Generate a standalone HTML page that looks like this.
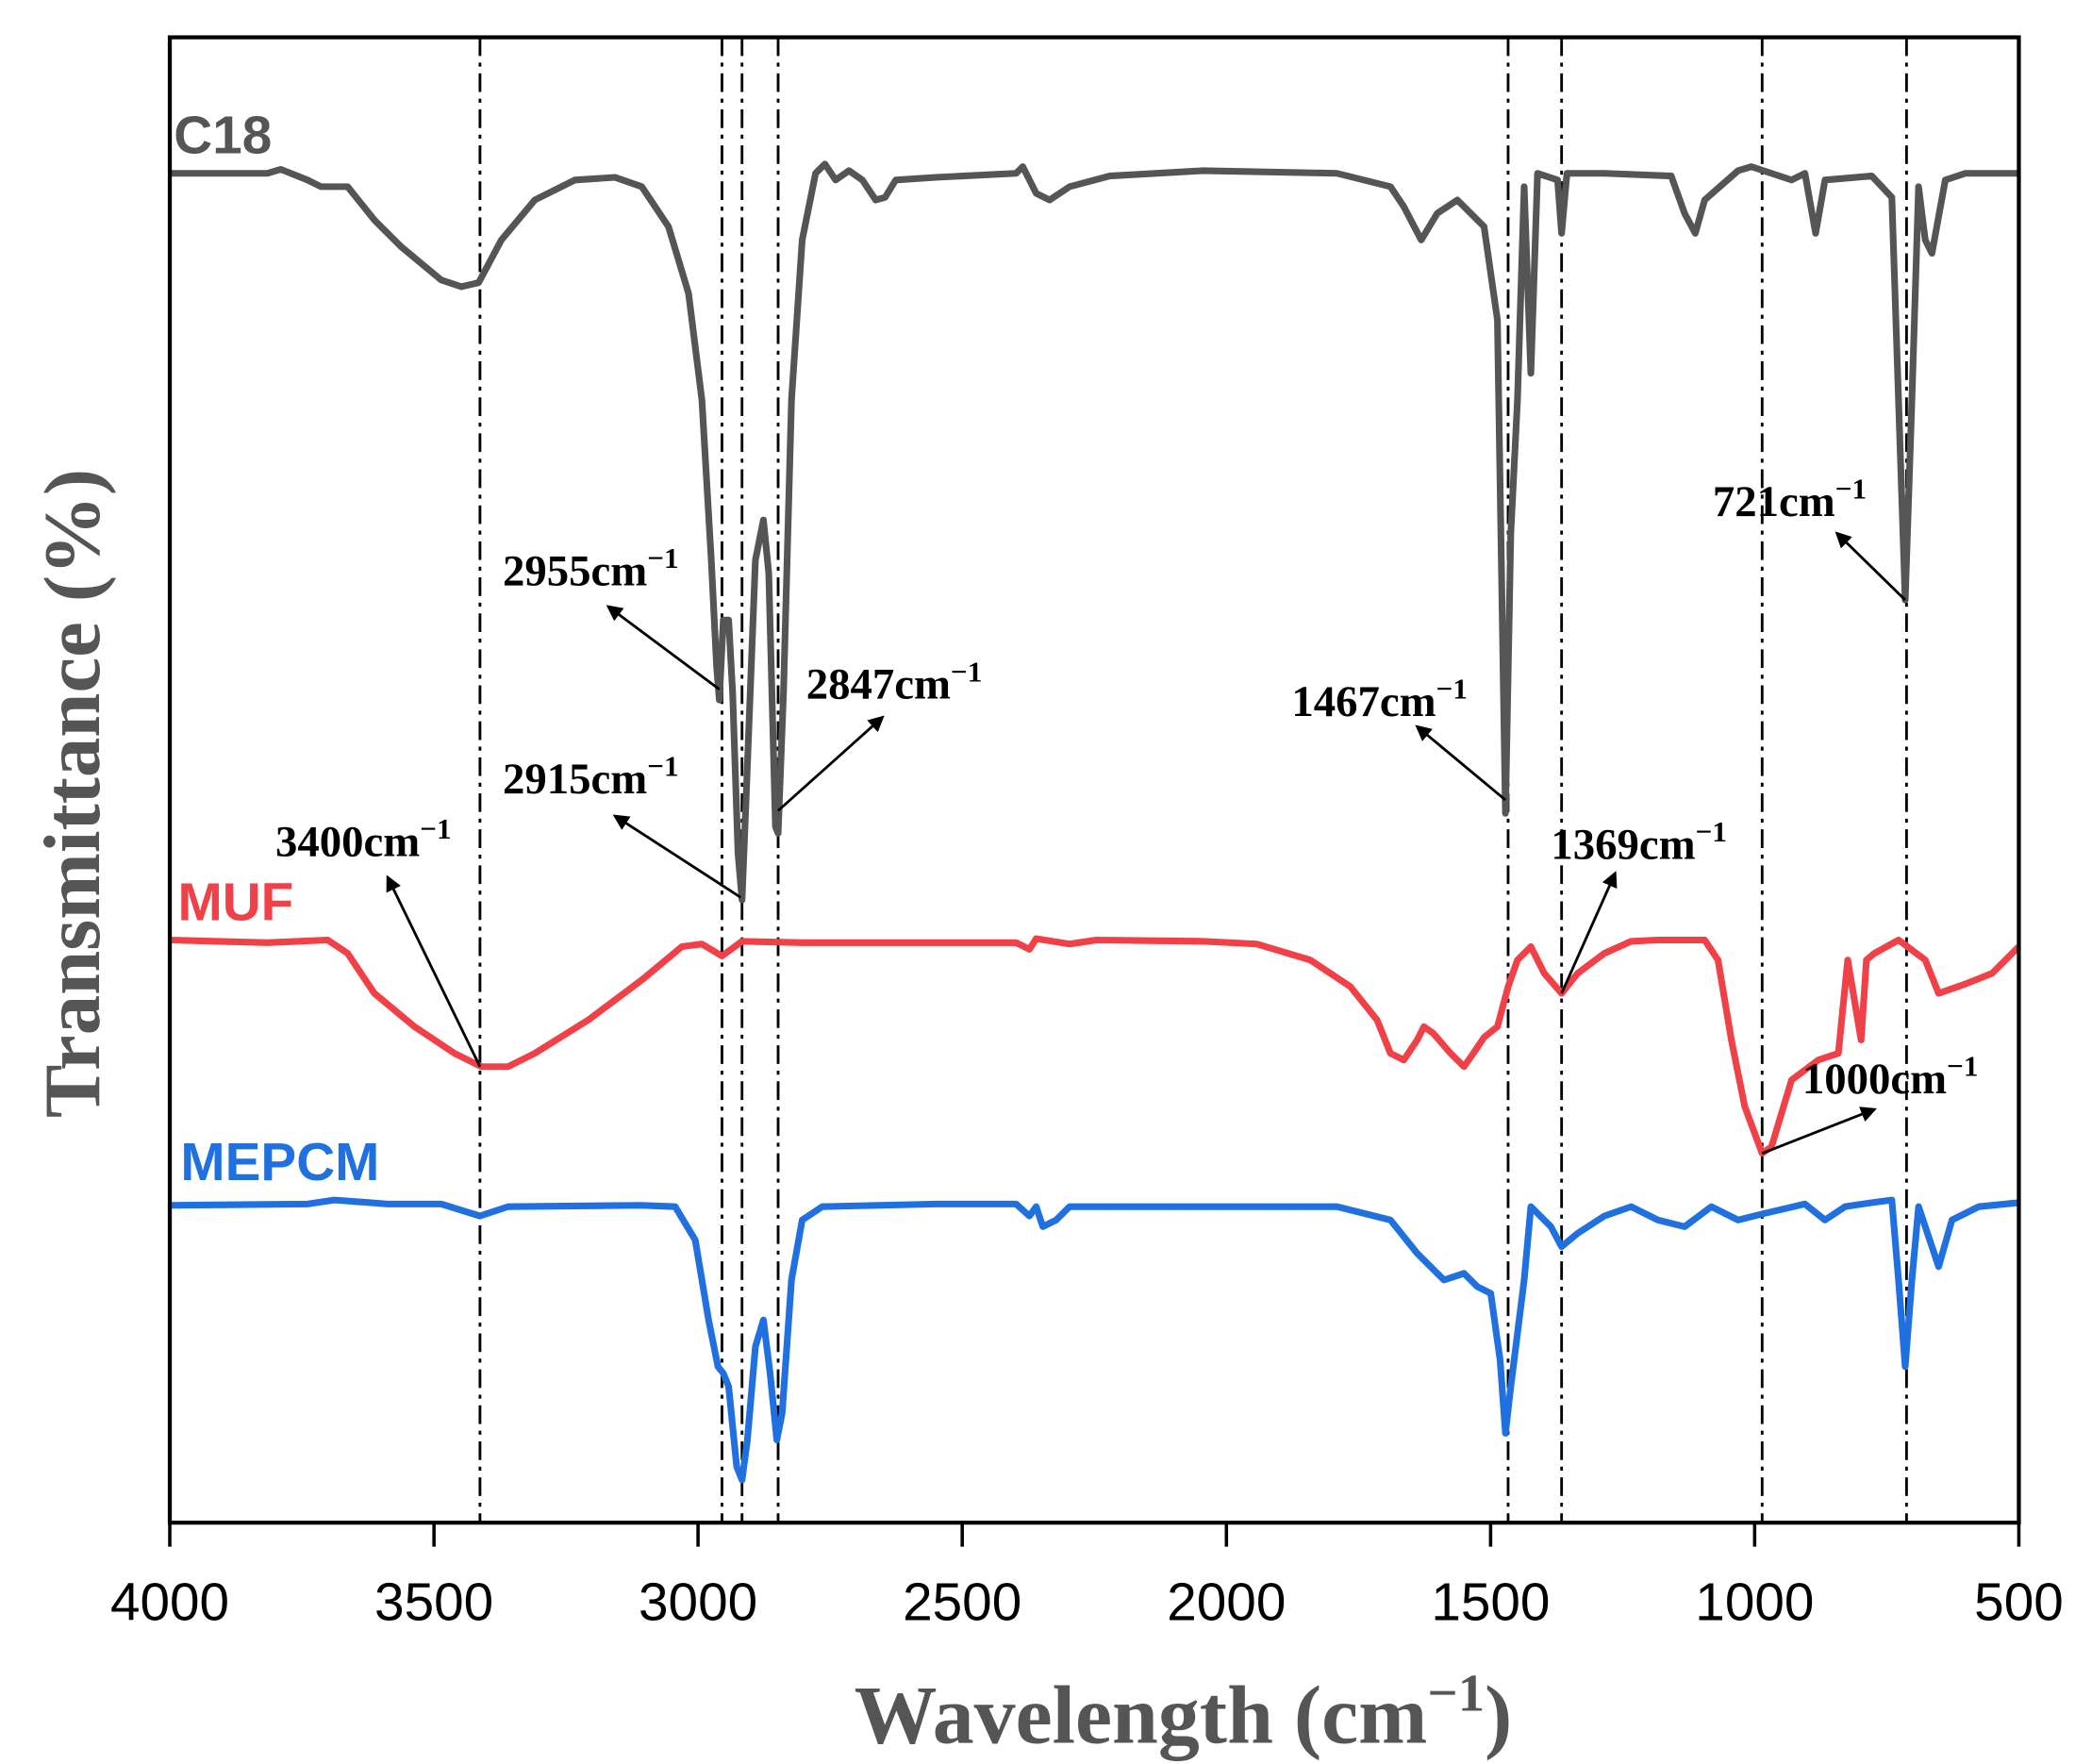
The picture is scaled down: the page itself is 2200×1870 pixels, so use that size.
<!DOCTYPE html>
<html><head><style>html,body{margin:0;padding:0;background:#fff}svg{display:block}</style></head>
<body>
<svg width="2200" height="1870" viewBox="0 0 1552 1323" preserveAspectRatio="none" xmlns="http://www.w3.org/2000/svg">
<defs><marker id="ah" markerWidth="12" markerHeight="12" refX="10" refY="6" orient="auto" markerUnits="userSpaceOnUse"><path d="M0,0 L12,6 L0,12 z" fill="#000"/></marker></defs>
<g stroke="#000" stroke-width="2" stroke-dasharray="14,5,3,5" fill="none">
<line x1="359" y1="28" x2="359" y2="1142"/><line x1="540" y1="28" x2="540" y2="1142"/>
<line x1="555" y1="28" x2="555" y2="1142"/><line x1="582" y1="28" x2="582" y2="1142"/>
<line x1="1128" y1="28" x2="1128" y2="1142"/><line x1="1168" y1="28" x2="1168" y2="1142"/>
<line x1="1318" y1="28" x2="1318" y2="1142"/><line x1="1426" y1="28" x2="1426" y2="1142"/>
</g>
<g fill="none" stroke-width="5" stroke-linejoin="round">
<polyline stroke="#555" points="127,130 200,130 210,127 230,135 240,140 260,140 280,165 300,185 330,210 345,215 358,212 375,180 400,150 430,135 460,133 480,140 500,170 515,220 525,300 532,420 536,500 538,525 541,465 545,465 548,520 552,640 555,675 558,600 565,420 571,390 575,430 580,620 582,625 586,520 592,300 600,180 610,130 617,123 625,135 635,128 645,135 655,150 662,148 670,135 700,133 760,130 765,125 775,145 785,150 800,140 830,132 900,128 1000,130 1040,140 1050,155 1063,180 1075,160 1090,150 1110,170 1120,240 1126,610 1130,400 1135,300 1140,140 1145,280 1150,130 1165,135 1168,175 1172,130 1200,130 1250,132 1260,160 1268,175 1275,150 1300,128 1310,125 1340,135 1350,130 1358,175 1365,135 1400,132 1415,148 1420,300 1425,450 1430,300 1435,140 1440,180 1445,190 1455,135 1470,130 1510,130"/>
<polyline stroke="#f04048" points="127,705 200,707 245,705 260,715 280,745 310,770 340,790 360,800 380,800 400,790 440,765 480,735 510,710 525,708 540,717 555,706 600,707 760,707 770,712 775,704 800,708 820,705 900,706 940,708 980,720 1010,740 1030,765 1040,790 1050,795 1060,780 1065,770 1072,775 1085,790 1095,800 1102,790 1110,778 1120,770 1128,740 1135,720 1145,710 1155,730 1168,745 1180,730 1200,715 1220,706 1240,705 1275,705 1285,720 1295,780 1305,830 1318,865 1325,860 1340,810 1360,795 1375,790 1382,720 1387,750 1392,780 1396,720 1402,715 1420,705 1440,720 1450,745 1470,738 1490,730 1510,710"/>
<polyline stroke="#2070e0" points="127,904 230,903 250,900 290,903 330,903 359,912 380,905 480,904 505,905 520,930 530,990 537,1025 541,1030 545,1040 551,1100 555,1110 559,1080 565,1010 571,990 576,1030 581,1080 585,1060 592,960 600,915 615,905 700,903 760,903 770,912 775,905 780,920 790,915 800,905 900,905 1000,905 1040,915 1060,940 1080,960 1095,955 1105,965 1115,970 1122,1020 1126,1075 1130,1040 1135,1000 1140,960 1145,905 1160,920 1168,935 1180,925 1200,912 1220,905 1240,915 1260,920 1280,905 1300,915 1320,910 1350,903 1365,915 1380,905 1400,902 1415,900 1420,960 1425,1025 1430,960 1435,905 1440,920 1450,950 1460,915 1480,905 1510,902"/>
</g>
<rect x="127" y="28" width="1383" height="1114" fill="none" stroke="#000" stroke-width="3"/>
<g stroke="#000" stroke-width="2.5">
<line x1="127" y1="1142" x2="127" y2="1160"/><line x1="324.6" y1="1142" x2="324.6" y2="1160"/><line x1="522.1" y1="1142" x2="522.1" y2="1160"/><line x1="719.7" y1="1142" x2="719.7" y2="1160"/><line x1="917.3" y1="1142" x2="917.3" y2="1160"/><line x1="1114.9" y1="1142" x2="1114.9" y2="1160"/><line x1="1312.4" y1="1142" x2="1312.4" y2="1160"/><line x1="1510" y1="1142" x2="1510" y2="1160"/>
</g>
<g font-family="Liberation Sans, sans-serif" font-size="40" text-anchor="middle" fill="#000">
<text x="127" y="1215">4000</text><text x="324.6" y="1215">3500</text><text x="522.1" y="1215">3000</text><text x="719.7" y="1215">2500</text><text x="917.3" y="1215">2000</text><text x="1114.9" y="1215">1500</text><text x="1312.4" y="1215">1000</text><text x="1510" y="1215">500</text>
</g>
<text x="885" y="1307" text-anchor="middle" font-family="Liberation Serif, serif" font-weight="bold" font-size="62" fill="#555">Wavelength (cm<tspan font-size="40" dy="-24">−1</tspan><tspan dy="24">)</tspan></text>
<text transform="translate(74,595) rotate(-90)" text-anchor="middle" font-family="Liberation Serif, serif" font-weight="bold" font-size="60" fill="#555">Transmittance (%)</text>
<g font-family="Liberation Sans, sans-serif" font-weight="bold" font-size="40">
<text x="130" y="115" fill="#555">C18</text>
<text x="133" y="690" fill="#f04048">MUF</text>
<text x="135" y="885" fill="#2070e0">MEPCM</text>
</g>
<g stroke="#000" stroke-width="2" marker-end="url(#ah)">
<line x1="538" y1="517" x2="455" y2="455"/>
<line x1="554" y1="673" x2="460" y2="612"/>
<line x1="582" y1="608" x2="660" y2="538"/>
<line x1="359" y1="800" x2="290" y2="658"/>
<line x1="1126" y1="600" x2="1060" y2="545"/>
<line x1="1168" y1="745" x2="1208" y2="655"/>
<line x1="1425" y1="450" x2="1374" y2="400"/>
<line x1="1318" y1="865" x2="1402" y2="832"/>
</g>
<g font-family="Liberation Serif, serif" font-weight="bold" font-size="33" fill="#000">
<text x="376" y="439">2955cm<tspan font-size="22" dy="-13">−1</tspan></text>
<text x="376" y="595">2915cm<tspan font-size="22" dy="-13">−1</tspan></text>
<text x="603" y="524">2847cm<tspan font-size="22" dy="-13">−1</tspan></text>
<text x="206" y="642">3400cm<tspan font-size="22" dy="-13">−1</tspan></text>
<text x="966" y="537">1467cm<tspan font-size="22" dy="-13">−1</tspan></text>
<text x="1160" y="644">1369cm<tspan font-size="22" dy="-13">−1</tspan></text>
<text x="1281" y="387">721cm<tspan font-size="22" dy="-13">−1</tspan></text>
<text x="1348" y="820">1000cm<tspan font-size="22" dy="-13">−1</tspan></text>
</g>
</svg>
</body></html>
